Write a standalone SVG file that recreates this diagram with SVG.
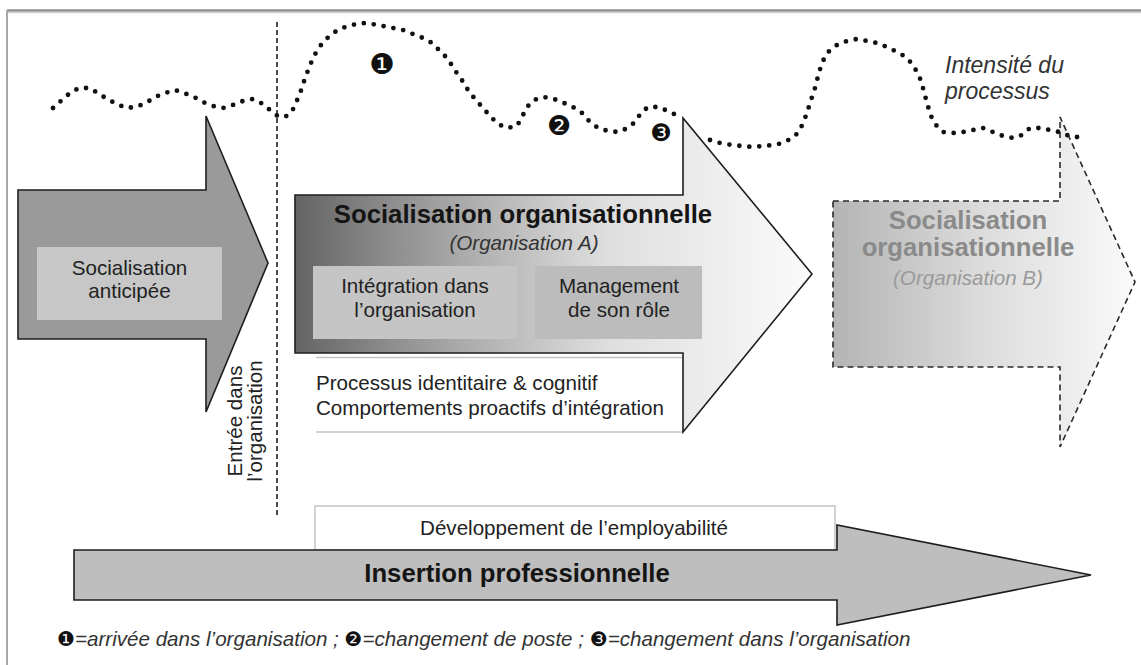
<svg xmlns="http://www.w3.org/2000/svg" width="1141" height="665" viewBox="0 0 1141 665">
<defs>
<linearGradient id="gA" x1="295" y1="0" x2="812" y2="0" gradientUnits="userSpaceOnUse">
<stop offset="0" stop-color="#646464"/>
<stop offset="0.3" stop-color="#a6a6a6"/>
<stop offset="0.6" stop-color="#dedede"/>
<stop offset="1" stop-color="#fbfbfb"/>
</linearGradient>
<linearGradient id="gB" x1="833" y1="0" x2="1135" y2="0" gradientUnits="userSpaceOnUse">
<stop offset="0" stop-color="#b4b4b4"/>
<stop offset="0.5" stop-color="#dcdcdc"/>
<stop offset="1" stop-color="#fafafa"/>
</linearGradient>
</defs>
<style>
text{font-family:'Liberation Sans',Arial,sans-serif;fill:#222;}
.r{font-size:20.6px;}
.m{text-anchor:middle;}
.b{font-weight:bold;font-size:25.7px;}
.i{font-style:italic;}
.arrow{stroke:#1e1e1e;stroke-width:1.6;stroke-linejoin:miter;}
.num{font-family:'DejaVu Sans',sans-serif;font-style:normal;fill:#111;}
.dots{fill:none;stroke:#111;stroke-width:4.8;stroke-linecap:round;stroke-dasharray:0,10;}
</style>
<rect x="0" y="0" width="1141" height="665" fill="#ffffff"/>
<!-- frame -->
<line x1="7" y1="10.5" x2="1141" y2="10.5" stroke="#8e8e8e" stroke-width="2.5"/>
<line x1="7" y1="12.5" x2="1141" y2="12.5" stroke="#d0d0d0" stroke-width="1.5"/>
<line x1="7" y1="10" x2="7" y2="665" stroke="#a8a8a8" stroke-width="2"/>

<g id="node-anticipee">
<polygon class="arrow" fill="#9a9a9a" points="18,190 206,190 206,116 268,263 206,412 206,339 18,339"/>
<rect x="37" y="247" width="185" height="73" fill="#c7c7c7"/>
<text class="r m" x="129.5" y="275">Socialisation</text>
<text class="r m" x="129.5" y="298">anticipée</text>
</g>

<g id="node-orgA">
<line x1="316" y1="357.5" x2="683" y2="357.5" stroke="#c4c4c4" stroke-width="1.5"/>
<line x1="316" y1="432" x2="683" y2="432" stroke="#c4c4c4" stroke-width="1.5"/>
<polygon class="arrow" fill="url(#gA)" points="295,195 683,195 683,118 812,274 683,432 683,353 295,353"/>
<text class="m b" x="523" y="223" style="fill:#151515">Socialisation organisationnelle</text>
<text class="r m i" x="524" y="250" style="fill:#333">(Organisation A)</text>
<rect x="313" y="266" width="204" height="73" fill="#c5c5c5"/>
<rect x="535" y="266" width="167" height="73" fill="#bcbcbc"/>
<text class="r m" x="415" y="293">Intégration dans</text>
<text class="r m" x="415" y="317">l’organisation</text>
<text class="r m" x="619" y="293">Management</text>
<text class="r m" x="619" y="317">de son rôle</text>
<text class="r" x="316" y="390">Processus identitaire &amp; cognitif</text>
<text class="r" x="316" y="415">Comportements proactifs d’intégration</text>
</g>

<g id="node-orgB">
<polygon fill="url(#gB)" stroke="#2a2a2a" stroke-width="1.6" stroke-dasharray="6,4" points="833,201 1060,201 1060,117 1135,282 1060,447 1060,367 833,367"/>
<text class="m b" x="968" y="229" style="fill:#8a8a8a">Socialisation</text>
<text class="m b" x="968" y="256" style="fill:#8a8a8a">organisationnelle</text>
<text class="r m i" x="968" y="285" style="fill:#9a9a9a">(Organisation B)</text>
</g>

<g id="node-insertion">
<rect x="315" y="506" width="520" height="44" fill="#ffffff" stroke="#c4c4c4" stroke-width="1.5"/>
<text class="r m" x="574" y="535">Développement de l’employabilité</text>
<polygon class="arrow" fill="#bebebe" points="74,550 837,550 837,525 1091,575 837,625 837,600 74,600"/>
<text class="m b" x="517" y="582" style="fill:#151515">Insertion professionnelle</text>
</g>

<g id="label-entree">
<text class="r m" transform="translate(242,421) rotate(-90)">Entrée dans</text>
<text class="r m" transform="translate(262,421) rotate(-90)">l’organisation</text>
</g>

<g id="label-intensite">
<text class="i" x="945" y="73" font-size="23" style="fill:#333">Intensité du</text>
<text class="i" x="945" y="99" font-size="23" style="fill:#333">processus</text>
</g>

<g id="markers">
<text class="num m" x="382" y="73.5" font-size="28.5">❶</text>
<text class="num m" x="559" y="135" font-size="27">❷</text>
<text class="num m" x="661" y="141" font-size="24">❸</text>
</g>

<g id="connectors">
<line x1="277" y1="22" x2="277" y2="517" stroke="#1e1e1e" stroke-width="1.6" stroke-dasharray="5,3"/>
<path class="dots" d="M53,108 L62,100 70,93 79,88 89,88 98,93 107,99 117,104 126,108 136,107 146,103 155,97 165,93 175,90 184,93 194,97 203,102 213,106 223,108 233,105 243,101 253,99 263,104 271,111 279,117 287,116 294,108 298,98 302,88 305,78 309,68 313,58 318,49 324,41 333,33 342,28 352,25 362,23 372,24 383,26 393,28 403,30 413,34 423,38 432,43 439,50 447,58 453,67 458,75 464,83 469,92 476,100 483,108 490,116 498,124 507,128 517,126 522,117 527,107 534,100 544,97 554,99 564,103 573,107 582,113 589,121 598,128 608,131 618,132 628,128 635,122 641,113 648,107 658,107 668,111 678,116 683,118"/>
<path class="dots" d="M710,140 L720,143 732,145 742,146 753,147 763,146 773,145 783,143 792,138 799,132 803,123 807,113 810,103 813,94 816,85 818,76 822,63 827,53 837,45 847,41 857,39 867,41 877,43 887,47 897,52 906,57 913,65 918,74 922,83 924,93 927,102 930,114 935,124 943,132 953,133 963,132 973,130 983,128 993,132 1003,136 1013,138 1022,135 1030,128 1040,128 1050,130 1059,132 1072,137 1082,137"/>
</g>

<g id="legend">
<text class="r i" x="57" y="646" style="fill:#333"><tspan class="num" font-size="20">❶</tspan>=arrivée dans l’organisation ; <tspan class="num" font-size="20">❷</tspan>=changement de poste ; <tspan class="num" font-size="20">❸</tspan>=changement dans l’organisation</text>
</g>
</svg>
